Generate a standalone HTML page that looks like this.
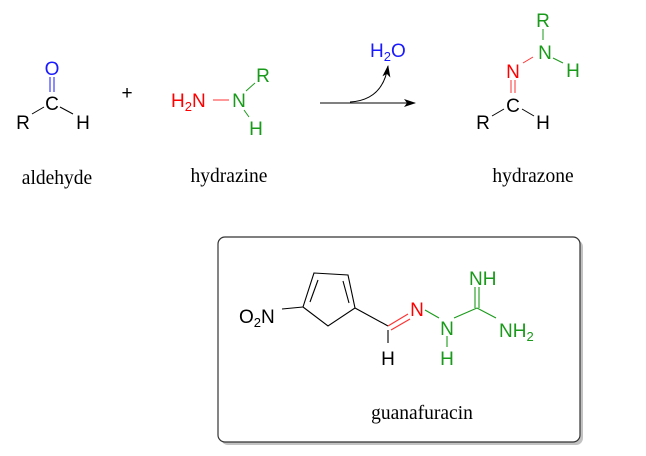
<!DOCTYPE html>
<html><head><meta charset="utf-8"><style>
html,body{margin:0;padding:0;background:#fff}
svg{display:block}
.s{font-family:"Liberation Sans",sans-serif;font-size:19px}
.sub{font-size:13px}
.lab{font-family:"Liberation Serif",serif;font-size:19.5px;fill:#000}
</style></head><body>
<svg width="646" height="456" viewBox="0 0 646 456" xmlns="http://www.w3.org/2000/svg">
<defs><marker id="ah" markerWidth="12" markerHeight="8" refX="11" refY="4" orient="auto" markerUnits="userSpaceOnUse"><path d="M0,0 L12,4 L0,8 L3,4 Z" fill="#000"/></marker></defs>
<!-- aldehyde -->
<g class="s" text-anchor="middle">
<text x="52" y="75" fill="#1a1aff">O</text>
<text x="52" y="110" fill="#000">C</text>
<text x="23" y="129" fill="#000">R</text>
<text x="83" y="129" fill="#000">H</text>
</g>
<line x1="50" y1="77" x2="50" y2="92" stroke="#1a1aff" stroke-width="1"/>
<line x1="54" y1="77" x2="54" y2="92" stroke="#1a1aff" stroke-width="1"/>
<line x1="32" y1="114" x2="44" y2="107" stroke="#000"/>
<line x1="60" y1="107" x2="73" y2="114" stroke="#000"/>
<text x="127" y="99" class="s" text-anchor="middle" font-size="16">+</text>
<!-- hydrazine -->
<text x="171" y="107" class="s" fill="#ff0000">H<tspan class="sub" dy="4">2</tspan><tspan dy="-4">N</tspan></text>
<line x1="213" y1="100" x2="229" y2="100" stroke="#ff3030"/>
<g class="s" fill="#1a9a1a" text-anchor="middle">
<text x="239" y="107">N</text>
<text x="263" y="82">R</text>
<text x="256" y="135">H</text>
</g>
<line x1="246" y1="91" x2="255" y2="83" stroke="#1a9a1a"/>
<line x1="244" y1="110" x2="249" y2="117" stroke="#1a9a1a"/>
<!-- arrow -->
<line x1="320" y1="103" x2="415" y2="103" stroke="#000" marker-end="url(#ah)"/>
<path d="M350,102 Q383,100 388,66" fill="none" stroke="#000" marker-end="url(#ah)"/>
<text x="370" y="57" class="s" fill="#1a1aff" font-size="17">H<tspan class="sub" font-size="12" dy="4">2</tspan><tspan dy="-4">O</tspan></text>
<!-- hydrazone -->
<g class="s" text-anchor="middle">
<text x="543" y="27" fill="#1a9a1a">R</text>
<text x="545" y="59" fill="#1a9a1a">N</text>
<text x="573" y="77" fill="#1a9a1a">H</text>
<text x="513" y="78" fill="#ff0000">N</text>
<text x="513" y="112" fill="#000">C</text>
<text x="483" y="129" fill="#000">R</text>
<text x="543" y="129" fill="#000">H</text>
</g>
<line x1="543" y1="29" x2="543" y2="40" stroke="#1a9a1a"/>
<line x1="553" y1="58" x2="563" y2="63" stroke="#1a9a1a"/>
<line x1="523" y1="63" x2="533" y2="57" stroke="#ff3030"/>
<line x1="511" y1="80" x2="511" y2="93" stroke="#ff3030"/>
<line x1="515" y1="80" x2="515" y2="93" stroke="#ff3030"/>
<line x1="492" y1="116" x2="504" y2="109" stroke="#000"/>
<line x1="522" y1="109" x2="534" y2="116" stroke="#000"/>
<!-- labels -->
<text x="57" y="184" class="lab" text-anchor="middle">aldehyde</text>
<text x="229" y="182" class="lab" text-anchor="middle">hydrazine</text>
<text x="533" y="182" class="lab" text-anchor="middle">hydrazone</text>
<!-- box -->
<rect x="221" y="240" width="362" height="205" rx="7" fill="#999" opacity="0.6"/>
<rect x="218" y="237" width="362" height="205" rx="7" fill="#fff" stroke="#333" stroke-width="1.2"/>
<!-- guanafuracin -->
<g stroke="#000" stroke-width="1.1" fill="none">
<polygon points="314,273 348,275 355,308 328,326 303,307"/>
<line x1="318" y1="280" x2="310" y2="302"/>
<line x1="343" y1="281" x2="349" y2="303"/>
<line x1="282" y1="309" x2="303" y2="307"/>
<line x1="355" y1="308" x2="388" y2="326"/>
<line x1="388" y1="330" x2="388" y2="343"/>
</g>
<line x1="388" y1="326" x2="408" y2="314" stroke="#ff3030" stroke-width="1.1"/>
<line x1="391" y1="330" x2="410" y2="319" stroke="#ff3030" stroke-width="1.1"/>
<text x="239" y="323" class="s" fill="#000">O<tspan class="sub" dy="4">2</tspan><tspan dy="-4">N</tspan></text>
<text x="417" y="316" class="s" fill="#ff0000" text-anchor="middle">N</text>
<g stroke="#1a9a1a" stroke-width="1.1">
<line x1="425" y1="310" x2="439" y2="318"/>
<line x1="454" y1="318" x2="477" y2="308"/>
<line x1="475" y1="287" x2="475" y2="308"/>
<line x1="479" y1="287" x2="479" y2="308"/>
<line x1="477" y1="308" x2="496" y2="318"/>
<line x1="447" y1="336" x2="447" y2="347"/>
</g>
<g class="s" fill="#1a9a1a">
<text x="447" y="335" text-anchor="middle">N</text>
<text x="447" y="365" text-anchor="middle">H</text>
<text x="469" y="285">NH</text>
<text x="499" y="337">NH<tspan class="sub" dy="4">2</tspan></text>
</g>
<text x="388" y="365" class="s" fill="#000" text-anchor="middle">H</text>
<text x="422" y="419" class="lab" text-anchor="middle">guanafuracin</text>
</svg>
</body></html>
